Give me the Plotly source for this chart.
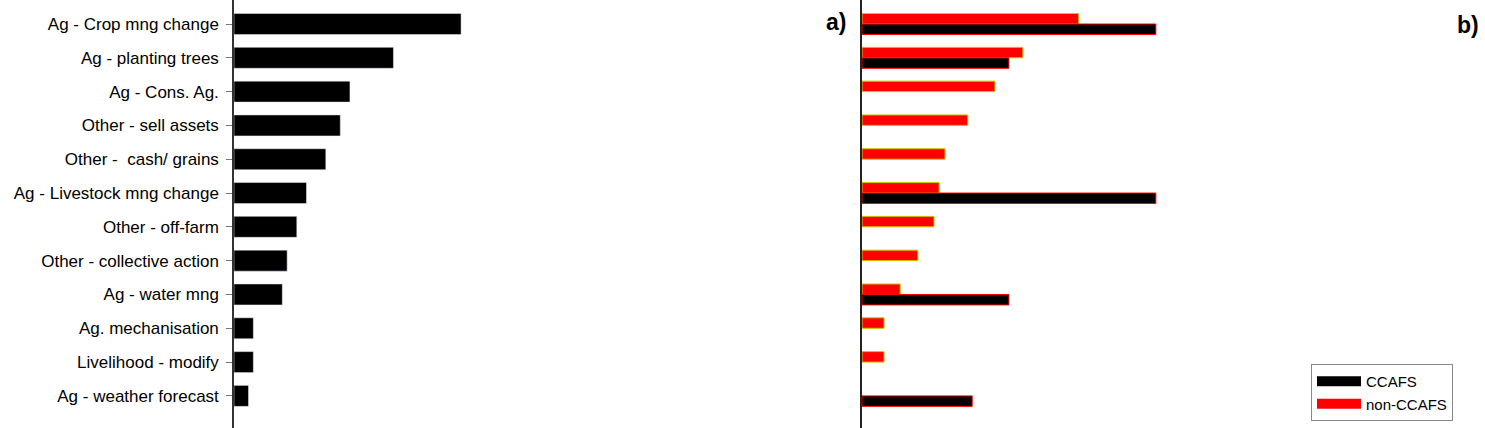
import plotly.graph_objects as go

categories = ["Ag - Crop mng change", "Ag - planting trees", "Ag - Cons. Ag.",
              "Other - sell assets", "Other -  cash/ grains", "Ag - Livestock mng change",
              "Other - off-farm", "Other - collective action", "Ag - water mng",
              "Ag. mechanisation", "Livelihood - modify", "Ag - weather forecast"]
total = [47, 33, 24, 22, 19, 15, 13, 11, 10, 4, 4, 3]
ccafs = [40, 20, None, None, None, 40, None, None, 20, None, None, 15]
non_ccafs = [29.5, 21.9, 18.1, 14.4, 11.3, 10.5, 9.8, 7.6, 5.2, 3.0, 3.0, None]

W, H = 1485, 428
fig = go.Figure()
fig.add_trace(go.Bar(y=categories, x=total, orientation="h", marker=dict(color="black"),
                     xaxis="x", yaxis="y", showlegend=False, width=0.62))
fig.add_trace(go.Bar(y=categories, x=non_ccafs, orientation="h", name="non-CCAFS",
                     marker=dict(color="#ff0000", line=dict(color="#c8c800", width=1)),
                     xaxis="x2", yaxis="y2", showlegend=False))
fig.add_trace(go.Bar(y=categories, x=ccafs, orientation="h", name="CCAFS",
                     marker=dict(color="black", line=dict(color="#ff0000", width=1)),
                     xaxis="x2", yaxis="y2", showlegend=False))
# legend entries (wide swatches like the original)
fig.add_trace(go.Scatter(x=[None], y=[None], mode="lines", name="CCAFS",
                         line=dict(color="black", width=11), xaxis="x2", yaxis="y2", legendrank=1))
fig.add_trace(go.Scatter(x=[None], y=[None], mode="lines", name="non-CCAFS",
                         line=dict(color="#ff0000", width=11), xaxis="x2", yaxis="y2", legendrank=2))

yr = [11.95, -0.71]
fig.update_layout(
    width=W, height=H, margin=dict(l=0, r=0, t=0, b=0),
    paper_bgcolor="white", plot_bgcolor="white",
    font=dict(family="Liberation Sans, Arial", size=17, color="black"),
    barmode="group", bargap=0.38, bargroupgap=0,
    xaxis=dict(domain=[234/W, 850/W], range=[0, 127.5], visible=False),
    yaxis=dict(domain=[0, 1], range=yr, showline=True, linecolor="#333", linewidth=1.5,
               ticks="outside", ticklen=6, tickcolor="#777", showgrid=False,
               tickfont=dict(size=17), ticklabelstandoff=4, anchor="x", automargin=False),
    xaxis2=dict(domain=[862/W, 1], range=[0, 84.8], visible=False, anchor="y2"),
    yaxis2=dict(domain=[0, 1], range=yr, showline=True, linecolor="#222", linewidth=2,
                showticklabels=False, ticks="", showgrid=False, anchor="x2"),
    legend=dict(x=1311/W, y=1-421/H, xanchor="left", yanchor="bottom",
                bordercolor="#888", borderwidth=1, bgcolor="white",
                font=dict(size=15), itemwidth=44, entrywidth=130, entrywidthmode="pixels"),
    annotations=[
        dict(text="<b>a)</b>", x=836/W, y=1-22/H, xref="paper", yref="paper",
             xanchor="center", yanchor="middle", showarrow=False, font=dict(size=23)),
        dict(text="<b>b)</b>", x=1468/W, y=1-25/H, xref="paper", yref="paper",
             xanchor="center", yanchor="middle", showarrow=False, font=dict(size=23)),
    ],
)
fig.write_html("out.html", config={"displayModeBar": False},
               post_script="document.body.style.margin='0';")
